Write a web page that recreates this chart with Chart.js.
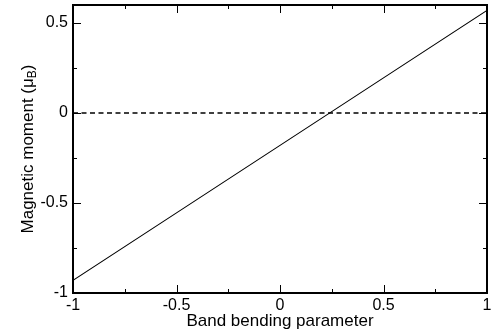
<!DOCTYPE html>
<html><head><meta charset="utf-8">
<script src="https://cdn.jsdelivr.net/npm/chart.js@4"></script>
<style>html,body{margin:0;padding:0;background:#fff}#wrap{width:491px;height:333px;position:relative}</style>
</head><body><div id="wrap"><canvas id="c"></canvas></div>
<script>
// Data
const bendingParam = [-1, -0.5, 0, 0.5, 1];
const magneticMoment = [-0.93, -0.555, -0.18, 0.195, 0.57];
const zeroLineX = [-1, 1];
const zeroLineY = [0, 0];
const xTickValues = [-1, -0.5, 0, 0.5, 1];
const yTickValues = [-1, -0.5, 0, 0.5];
const xMinorTicks = [-0.75, -0.25, 0.25, 0.75];
const yMinorTicks = [-0.75, -0.25, 0.25];
const xTitle = 'Band bending parameter';
const yTitleMain = 'Magnetic moment (μ';
const yTitleSub = 'B';
const yTitleEnd = ')';

const FONT = '"Liberation Sans", Arial, Helvetica, sans-serif';

const framePlugin = {
  id: 'frame',
  afterDraw(chart) {
    const {ctx, chartArea: a, scales: {x, y}} = chart;
    ctx.save();
    ctx.strokeStyle = '#000';
    ctx.lineWidth = 2;
    ctx.beginPath();
    ctx.moveTo(a.left, a.top); ctx.lineTo(a.right, a.top); ctx.lineTo(a.right, a.bottom);
    ctx.stroke();
    ctx.lineWidth = 1;
    const tick = (vals, len) => {
      vals.forEach(v => {
        const px = Math.round(x.getPixelForValue(v)) + 0.5;
        ctx.beginPath();
        ctx.moveTo(px, a.bottom); ctx.lineTo(px, a.bottom - len);
        ctx.moveTo(px, a.top); ctx.lineTo(px, a.top + len);
        ctx.stroke();
      });
    };
    const ytick = (vals, len) => {
      vals.forEach(v => {
        const py = Math.round(y.getPixelForValue(v)) + 0.5;
        ctx.beginPath();
        ctx.moveTo(a.left, py); ctx.lineTo(a.left + len, py);
        ctx.moveTo(a.right, py); ctx.lineTo(a.right - len, py);
        ctx.stroke();
      });
    };
    tick(xTickValues.slice(1, -1), 8);
    tick(xMinorTicks, 4);
    ytick(yTickValues.slice(1), 8);
    ytick(yMinorTicks, 4);

    // y-axis title with subscript
    ctx.fillStyle = '#000';
    ctx.textBaseline = 'alphabetic';
    const mainFont = '17px ' + FONT, subFont = '12px ' + FONT;
    ctx.font = mainFont; const w1 = ctx.measureText(yTitleMain).width; const w3 = ctx.measureText(yTitleEnd).width;
    ctx.font = subFont; const w2 = ctx.measureText(yTitleSub).width;
    const total = w1 + w2 + w3;
    const cy = (a.top + a.bottom) / 2;
    ctx.translate(33, cy);
    ctx.rotate(-Math.PI / 2);
    let sx = -total / 2;
    ctx.font = mainFont; ctx.fillText(yTitleMain, sx, 0); sx += w1;
    ctx.font = subFont; ctx.fillText(yTitleSub, sx, 3); sx += w2;
    ctx.font = mainFont; ctx.fillText(yTitleEnd, sx, 0);
    ctx.restore();
  }
};

new Chart(document.getElementById('c'), {
  type: 'line',
  data: {
    datasets: [
      {
        label: 'Magnetic moment',
        data: bendingParam.map((v, i) => ({x: v, y: magneticMoment[i]})),
        borderColor: '#000', borderWidth: 1.1, pointRadius: 0, fill: false, tension: 0
      },
      {
        label: 'zero',
        data: zeroLineX.map((v, i) => ({x: v, y: zeroLineY[i]})),
        borderColor: '#000', borderWidth: 1.4, borderDash: [5, 3.5], pointRadius: 0, fill: false
      }
    ]
  },
  options: {
    responsive: true, maintainAspectRatio: false, animation: false,
    devicePixelRatio: 1,
    layout: {padding: {top: 5, right: 4, left: 0, bottom: 0}},
    plugins: {legend: {display: false}, tooltip: {enabled: false}},
    scales: {
      x: {
        type: 'linear', min: -1, max: 1,
        afterBuildTicks: s => { s.ticks = xTickValues.map(v => ({value: v})); },
        afterFit: s => { s.height = 40; s.paddingLeft = 0; s.paddingRight = 0; },
        grid: {display: false, drawTicks: false},
        border: {display: true, color: '#000', width: 2},
        ticks: {color: '#000', font: {family: FONT, size: 16}, padding: 3, maxRotation: 0, autoSkip: false,
          callback: v => String(v)},
        title: {display: true, text: xTitle, color: '#000', font: {family: FONT, size: 17}, padding: {top: 0, bottom: 1}}
      },
      y: {
        type: 'linear', min: -1, max: 0.6,
        afterBuildTicks: s => { s.ticks = yTickValues.map(v => ({value: v})); },
        afterFit: s => { s.width = 73; s.paddingTop = 0; s.paddingBottom = 0; },
        grid: {display: false, drawTicks: false},
        border: {display: true, color: '#000', width: 2},
        ticks: {color: '#000', font: {family: FONT, size: 16}, padding: 5, autoSkip: false,
          callback: v => String(v)}
      }
    }
  },
  plugins: [framePlugin]
});
</script>
</body></html>
